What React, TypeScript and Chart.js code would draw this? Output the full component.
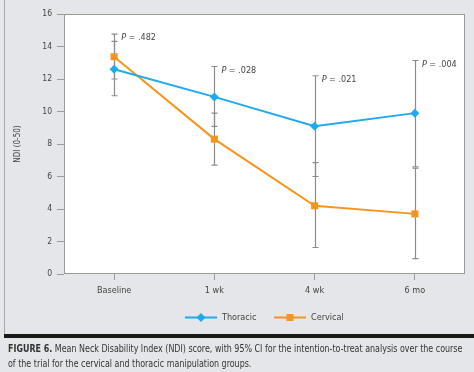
import { useEffect, useRef } from "react";
import { Chart, registerables } from "chart.js";

Chart.register(...registerables);

const categories = ["Baseline", "1 wk", "4 wk", "6 mo"];
const thoracicMean = [12.6, 10.9, 9.1, 9.9];
const thoracicLow = [10.97, 9.08, 6.0, 6.6];
const thoracicHigh = [14.31, 12.77, 12.2, 13.14];
const cervicalMean = [13.37, 8.3, 4.2, 3.7];
const cervicalLow = [12.0, 6.7, 1.63, 0.95];
const cervicalHigh = [14.76, 9.9, 6.86, 6.52];
const pValues = [".482", ".028", ".021", ".004"];
const yMin = 0;
const yMax = 16;
const yStep = 2;

const FONT = '"Liberation Sans Narrow", "DejaVu Sans Condensed", "Liberation Sans", sans-serif';
const BLUE = "#1eaaee";
const ORANGE = "#f7941d";
const GRAY_BG = "#e4e6e9";
const AXIS = "#9a9a9a";
const ERR = "#8c8c8c";

const chartBgPlugin = {
  id: "chartBg",
  beforeDraw(chart: any) {
    const { ctx, chartArea } = chart;
    ctx.save();
    ctx.fillStyle = "#ffffff";
    ctx.fillRect(chartArea.left, chartArea.top, chartArea.right - chartArea.left, chartArea.bottom - chartArea.top);
    ctx.restore();
  },
  afterDraw(chart: any) {
    const { ctx, chartArea } = chart;
    ctx.save();
    ctx.strokeStyle = AXIS;
    ctx.lineWidth = 1;
    ctx.strokeRect(
      Math.round(chartArea.left) + 0.5,
      Math.round(chartArea.top) + 0.5,
      Math.round(chartArea.right - chartArea.left) - 1,
      Math.round(chartArea.bottom - chartArea.top) - 1
    );
    ctx.restore();
  },
};

const errorBarPlugin = {
  id: "errorBars",
  beforeDatasetsDraw(chart: any) {
    const { ctx } = chart;
    const xs = chart.scales.x;
    const ys = chart.scales.y;
    ctx.save();
    ctx.strokeStyle = ERR;
    ctx.lineWidth = 1.2;
    const groups = [
      [thoracicLow, thoracicHigh],
      [cervicalLow, cervicalHigh],
    ];
    categories.forEach((_, i) => {
      const x = Math.round(xs.getPixelForValue(i)) + 0.5;
      groups.forEach(([lo, hi]) => {
        const y1 = ys.getPixelForValue(lo[i]);
        const y2 = ys.getPixelForValue(hi[i]);
        ctx.beginPath();
        ctx.moveTo(x, y1);
        ctx.lineTo(x, y2);
        ctx.moveTo(x - 3, y1);
        ctx.lineTo(x + 3, y1);
        ctx.moveTo(x - 3, y2);
        ctx.lineTo(x + 3, y2);
        ctx.stroke();
      });
    });
    ctx.restore();
  },
  afterDatasetsDraw(chart: any) {
    const { ctx } = chart;
    const xs = chart.scales.x;
    const ys = chart.scales.y;
    ctx.save();
    ctx.fillStyle = "#444";
    ctx.textBaseline = "middle";
    categories.forEach((_, i) => {
      const top = Math.max(thoracicHigh[i], cervicalHigh[i]);
      const x = xs.getPixelForValue(i) + 7;
      const y = ys.getPixelForValue(top) + 4;
      ctx.font = `italic 9px ${FONT}`;
      ctx.fillText("P", x, y);
      const w = ctx.measureText("P").width;
      ctx.font = `9px ${FONT}`;
      ctx.fillText(` = ${pValues[i]}`, x + w, y);
    });
    ctx.restore();
  },
};

const legendPlugin = {
  id: "customLegend",
  afterDraw(chart: any) {
    const { ctx } = chart;
    const y = 317.5;
    ctx.save();
    ctx.font = `9px ${FONT}`;
    ctx.textBaseline = "middle";
    // Thoracic
    ctx.strokeStyle = BLUE;
    ctx.lineWidth = 2;
    ctx.beginPath();
    ctx.moveTo(185, y);
    ctx.lineTo(217, y);
    ctx.stroke();
    ctx.fillStyle = BLUE;
    ctx.beginPath();
    ctx.moveTo(201 - 4.5, y);
    ctx.lineTo(201, y - 4.5);
    ctx.lineTo(201 + 4.5, y);
    ctx.lineTo(201, y + 4.5);
    ctx.closePath();
    ctx.fill();
    ctx.fillStyle = "#444";
    ctx.fillText(chart.data.datasets[0].label, 222, y);
    // Cervical
    ctx.strokeStyle = ORANGE;
    ctx.beginPath();
    ctx.moveTo(274, y);
    ctx.lineTo(306, y);
    ctx.stroke();
    ctx.fillStyle = ORANGE;
    ctx.fillRect(290 - 3.5, y - 3.5, 7, 7);
    ctx.fillStyle = "#444";
    ctx.fillText(chart.data.datasets[1].label, 311, y);
    ctx.restore();
  },
};

export default function App() {
  const ref = useRef<HTMLCanvasElement | null>(null);

  useEffect(() => {
    document.body.style.margin = "0";
    if (!ref.current) return;
    const chart = new Chart(ref.current, {
      type: "line",
      data: {
        labels: categories,
        datasets: [
          {
            label: "Thoracic",
            data: thoracicMean,
            borderColor: BLUE,
            backgroundColor: BLUE,
            borderWidth: 2,
            pointStyle: "rectRot",
            pointRadius: 4.5,
            pointBorderWidth: 0,
            tension: 0,
          },
          {
            label: "Cervical",
            data: cervicalMean,
            borderColor: ORANGE,
            backgroundColor: ORANGE,
            borderWidth: 2,
            pointStyle: "rect",
            pointRadius: 5,
            pointBorderWidth: 0,
            tension: 0,
          },
        ],
      },
      options: {
        animation: false,
        responsive: false,
        maintainAspectRatio: false,
        layout: { padding: { top: 14, right: 9, bottom: 0, left: 0 } },
        plugins: {
          legend: { display: false },
          tooltip: { enabled: false },
        },
        scales: {
          x: {
            type: "category",
            offset: true,
            grid: { offset: false, drawOnChartArea: false, drawTicks: true, tickLength: 6, color: AXIS },
            border: { display: false },
            ticks: { color: "#444", font: { family: FONT, size: 9 }, padding: 5, maxRotation: 0 },
            afterFit: (s: any) => {
              s.height = 66;
            },
          },
          y: {
            min: yMin,
            max: yMax,
            ticks: { stepSize: yStep, color: "#444", font: { family: FONT, size: 8.5 }, padding: 5 },
            grid: { drawOnChartArea: false, drawTicks: true, tickLength: 7, color: AXIS },
            border: { display: false },
            title: {
              display: true,
              text: "NDI (0-50)",
              color: "#444",
              font: { family: FONT, size: 8 },
              padding: { top: 13.5, bottom: 0 },
            },
            afterFit: (s: any) => {
              s.width = 64;
            },
          },
        },
      },
      plugins: [chartBgPlugin, errorBarPlugin, legendPlugin],
    });
    return () => chart.destroy();
  }, []);

  return (
    <div style={{ position: "relative", width: 474, height: 372, background: GRAY_BG, overflow: "hidden" }}>
      <canvas ref={ref} width={474} height={340} style={{ position: "absolute", left: 0, top: 0, width: 474, height: 340 }} />
      <div style={{ position: "absolute", left: 4, top: 0, width: 1, height: 334, background: "#aaaaaa" }} />
      <div style={{ position: "absolute", left: 4, top: 334, width: 470, height: 4, background: "#1a1a1a" }} />
      <div
        style={{
          position: "absolute",
          left: 8,
          top: 341,
          whiteSpace: "nowrap",
          fontFamily: FONT,
          fontSize: 10,
          lineHeight: "15px",
          color: "#333",
          transform: "scaleX(0.885)",
          transformOrigin: "left top",
        }}
      >
        <b>FIGURE 6.</b> Mean Neck Disability Index (NDI) score, with 95% CI for the intention-to-treat analysis over the course
        <br />
        of the trial for the cervical and thoracic manipulation groups.
      </div>
    </div>
  );
}
